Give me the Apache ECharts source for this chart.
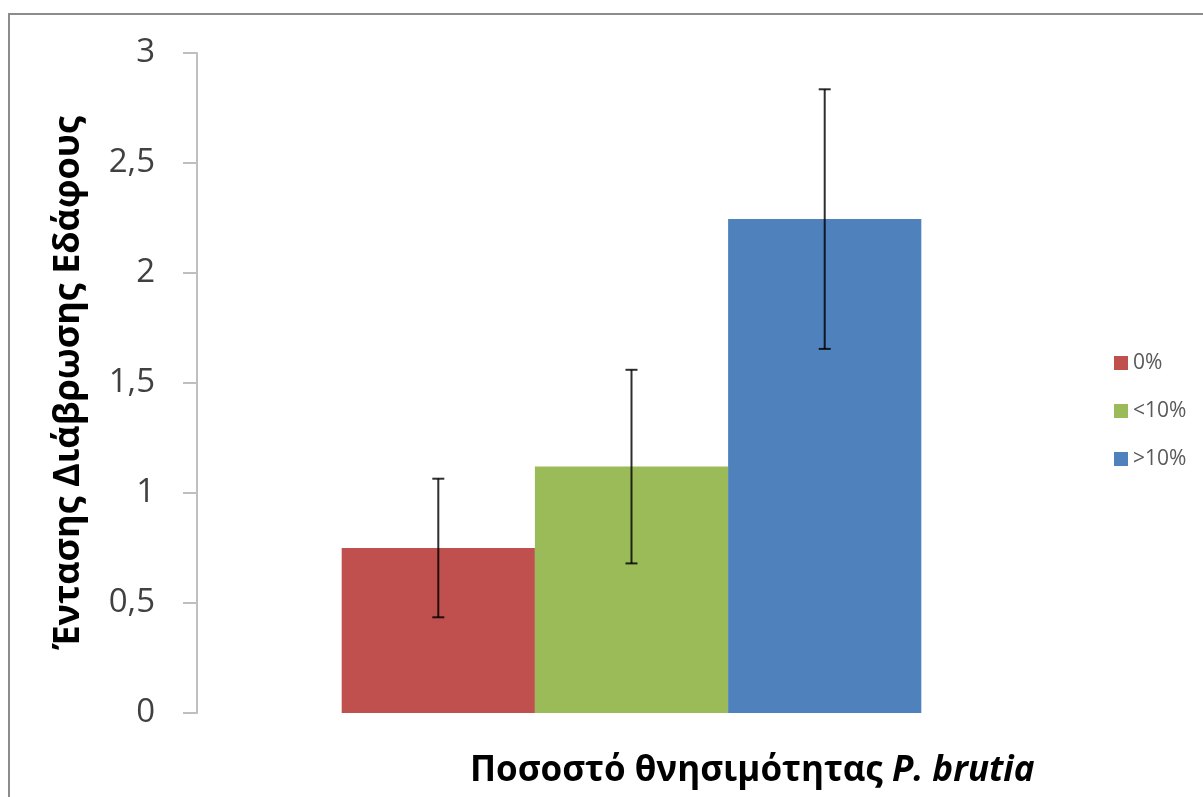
<!DOCTYPE html>
<html>
<head>
<meta charset="utf-8">
<script src="https://cdn.jsdelivr.net/npm/echarts@6/dist/echarts.min.js"></script>
<style>
html,body{margin:0;padding:0;background:#fff;}
#chart{width:1203px;height:797px;}
</style>
</head>
<body>
<div id="chart"></div>
<script>
// ---- data ----
var categories = [''];
var seriesNames = ['0%', '<10%', '>10%'];
var meanValues = [0.75, 1.12, 2.245];
var errorValues = [0.315, 0.44, 0.59];
var colors = ['#C0504D', '#9BBB59', '#4F81BD'];
var yTicks = { min: 0, max: 3, interval: 0.5 };
var yTitle = 'Έντασης Διάβρωσης Εδάφους';
var xTitleMain = 'Ποσοστό θνησιμότητας ';
var xTitleItalic = 'P. brutia';

var FONT = '"Open Sans", "Noto Sans", sans-serif';
var chart = echarts.init(document.getElementById('chart'), null, {renderer: 'canvas'});

var barCategoryGap = 0.333;
var nSeries = seriesNames.length;

var series = [];
seriesNames.forEach(function (name, i) {
  series.push({
    name: name,
    type: 'bar',
    data: [meanValues[i]],
    barGap: '0%',
    barCategoryGap: (barCategoryGap * 100) + '%',
    itemStyle: { color: colors[i] },
    emphasis: { disabled: true },
    animation: false
  });
});

// error bars drawn through the axis scales
series.push({
  type: 'custom',
  name: 'err',
  data: meanValues.map(function (m, i) { return [0, m - errorValues[i], m + errorValues[i], i]; }),
  encode: { x: 0, y: [1, 2] },
  z: 10,
  animation: false,
  silent: true,
  renderItem: function (params, api) {
    var idx = api.value(3);
    var catW = api.size([1, 0])[0];
    var barW = catW * (1 - barCategoryGap) / nSeries;
    var offset = (idx - (nSeries - 1) / 2) * barW;
    var lo = api.coord([api.value(0), api.value(1)]);
    var hi = api.coord([api.value(0), api.value(2)]);
    var x = lo[0] + offset;
    var cap = 6;
    var style = { stroke: 'rgba(0,0,0,0.82)', lineWidth: 2 };
    return {
      type: 'group',
      children: [
        { type: 'line', shape: { x1: x, y1: lo[1], x2: x, y2: hi[1] }, style: style },
        { type: 'line', shape: { x1: x - cap, y1: hi[1], x2: x + cap, y2: hi[1] }, style: style },
        { type: 'line', shape: { x1: x - cap, y1: lo[1], x2: x + cap, y2: lo[1] }, style: style }
      ]
    };
  }
});

var option = {
  backgroundColor: '#ffffff',
  animation: false,
  title: {
    text: '{a|' + xTitleMain + '}{b|' + xTitleItalic + '}',
    left: 470,
    top: 754,
    padding: 0,
    textStyle: {
      rich: {
        a: { fontFamily: FONT, fontSize: 35, fontWeight: 'bold', color: '#000' },
        b: { fontFamily: FONT, fontSize: 35, fontWeight: 'bold', fontStyle: 'italic', color: '#000' }
      }
    }
  },
  legend: {
    orient: 'vertical',
    left: 1109,
    top: 347,
    itemWidth: 14,
    itemHeight: 14,
    itemGap: 26,
    icon: 'rect',
    data: seriesNames,
    textStyle: { fontFamily: FONT, fontSize: 21, color: '#595959', lineHeight: 22 }
  },
  grid: { left: 197, right: 137, top: 53, bottom: 84 },
  xAxis: {
    type: 'category',
    data: categories,
    axisLine: { show: false },
    axisTick: { show: false },
    axisLabel: { show: false },
    splitLine: { show: false }
  },
  yAxis: {
    type: 'value',
    min: yTicks.min,
    max: yTicks.max,
    interval: yTicks.interval,
    name: yTitle,
    nameLocation: 'middle',
    nameGap: 110,
    nameRotate: 90,
    nameTextStyle: { fontFamily: FONT, fontSize: 36, fontWeight: 'bold', color: '#000' },
    axisLine: { show: true, lineStyle: { color: '#BFBFBF', width: 2 } },
    axisTick: { show: true, length: 14, lineStyle: { color: '#BFBFBF', width: 2 } },
    splitLine: { show: false },
    axisLabel: {
      margin: 42,
      fontFamily: FONT,
      fontSize: 33,
      color: '#404040',
      formatter: function (v) { return String(v).replace('.', ','); }
    }
  },
  graphic: [{
    type: 'rect',
    shape: { x: 9, y: 14, width: 1400, height: 1000 },
    style: { fill: 'none', stroke: '#8c8c8c', lineWidth: 2 },
    silent: true,
    z: 100
  }],
  series: series
};
chart.setOption(option);
</script>
</body>
</html>
